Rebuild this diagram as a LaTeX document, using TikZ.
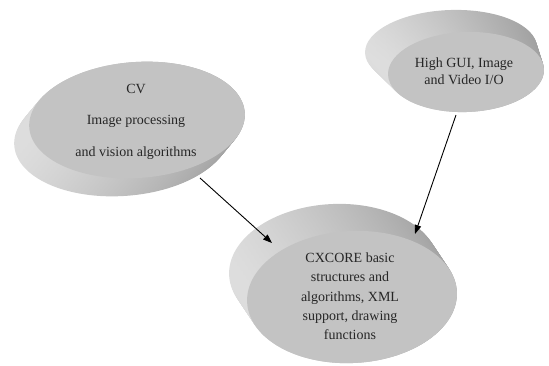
\documentclass[tikz,border=0pt]{standalone}
\usepackage{fontspec}
\setmainfont{Liberation Serif}
\usetikzlibrary{shapes.geometric,arrows.meta}
\definecolor{facegray}{RGB}{195,195,195}
\definecolor{sidelight}{RGB}{222,222,222}
\definecolor{sidedark}{RGB}{160,160,160}
\tikzset{
  sideshade/.style={left color=sidelight, right color=sidedark, draw=none},
  facebox/.style={ellipse, fill=facegray, draw=none, inner sep=0pt},
  label/.style={align=center, text=black!85},
  link/.style={draw=black, line width=0.9pt, -{Triangle[length=9pt,width=6.5pt]}}
}
\begin{document}
\begin{tikzpicture}[x=1pt,y=-1pt]
\useasboundingbox (0,0) rectangle (549,365);
\begin{scope}
\clip (0,0) rectangle (549,365);
% CV disk side
\foreach \i in {0,...,24}{
  \pgfmathsetmacro\xx{122+15*\i/24}
  \pgfmathsetmacro\yy{138-18*\i/24}
  \path[sideshade, rotate around={4:(\xx,\yy)}] (\xx,\yy) ellipse (108pt and 58pt);
}
\node[facebox, minimum width=216pt, minimum height=116pt, rotate=4] (cvface) at (137,120) {};
\node[label, font=\fontsize{14}{31.5}\selectfont] (cvtext) at (136,121.5)
  {CV\\Image processing\\and vision algorithms};
% High GUI disk side
\foreach \i in {0,...,24}{
  \pgfmathsetmacro\xx{451+15*\i/24}
  \pgfmathsetmacro\yy{50+22*\i/24}
  \pgfmathsetmacro\rx{86-8*\i/24}
  \path[sideshade, rotate around={2:(\xx,\yy)}] (\xx,\yy) ellipse (\rx pt and 40pt);
}
\node[facebox, minimum width=156pt, minimum height=80pt, rotate=2] (guiface) at (466,72) {};
\node[label, font=\fontsize{14}{17.5}\selectfont] (guitext) at (464,71)
  {High GUI, Image\\and Video I/O};
% CXCORE disk side
\foreach \i in {0,...,24}{
  \pgfmathsetmacro\xx{334+18*\i/24}
  \pgfmathsetmacro\yy{270+27*\i/24}
  \path[sideshade, rotate around={3:(\xx,\yy)}] (\xx,\yy) ellipse (105pt and 66pt);
}
\node[facebox, minimum width=210pt, minimum height=132pt, rotate=3] (cxface) at (352,297) {};
\node[label, font=\fontsize{14}{19.3}\selectfont] (cxtext) at (350,296.5)
  {CXCORE basic\\structures and\\algorithms, XML\\support, drawing\\functions};
\end{scope}
% connectors
\coordinate (cvout) at (200,178);
\coordinate (cxinl) at (272,243);
\coordinate (guiout) at (456,115);
\coordinate (cxinr) at (415,234);
\draw[link] (cvout) -- (cxinl);
\draw[link] (guiout) -- (cxinr);
\end{tikzpicture}
\end{document}
